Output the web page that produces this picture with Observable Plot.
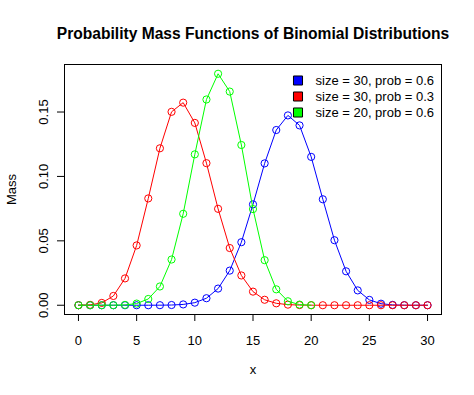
<!DOCTYPE html>
<html>
<head>
<meta charset="utf-8">
<script src="https://cdn.jsdelivr.net/npm/d3@7"></script>
<script src="https://cdn.jsdelivr.net/npm/@observablehq/plot@0.6"></script>
<style>
  html, body { margin: 0; padding: 0; background: #fff; }
  #chart { width: 474px; height: 395px; }
  svg { font-family: "Liberation Sans", Arial, sans-serif; }
</style>
</head>
<body>
<div id="chart"></div>
<script>
// x values (number of successes)
const k30 = d3.range(0, 31);
const k20 = d3.range(0, 21);

// size = 30, prob = 0.6
const massBlue = [
  0.0000000000012, 0.00000000005, 0.0000000011, 0.000000016, 0.00000016, 0.0000012,
  0.0000078, 0.000040, 0.000173, 0.000634, 0.002000, 0.005448, 0.012939, 0.026873,
  0.048947, 0.078315, 0.110130, 0.136040, 0.147380, 0.139620, 0.115190, 0.082278,
  0.050489, 0.026342, 0.011525, 0.004149, 0.001197, 0.000266, 0.0000427, 0.0000044, 0.0000002
];
// size = 30, prob = 0.3
const massRed = [
  0.0000225, 0.000290, 0.001801, 0.007203, 0.020838, 0.046439, 0.082927, 0.121850,
  0.150140, 0.157290, 0.141560, 0.110310, 0.074853, 0.044418, 0.023115, 0.010567,
  0.004246, 0.001499, 0.000464, 0.000126, 0.0000296, 0.0000060, 0.0000011, 0.00000016,
  0.00000002, 0, 0, 0, 0, 0, 0
];
// size = 20, prob = 0.6
const massGreen = [
  0.000000011, 0.00000033, 0.0000047, 0.0000423, 0.000270, 0.001294, 0.004854, 0.014563,
  0.035497, 0.070995, 0.117140, 0.159740, 0.179710, 0.165880, 0.124410, 0.074647,
  0.034991, 0.012350, 0.003087, 0.000487, 0.0000366
];

const seriesLabels = ["size = 30, prob = 0.6", "size = 30, prob = 0.3", "size = 20, prob = 0.6"];
const seriesColors = ["#0000FF", "#FF0000", "#00FF00"];
const xTicks = [0, 5, 10, 15, 20, 25, 30];
const yTicks = [0, 0.05, 0.10, 0.15];
const titleText = "Probability Mass Functions of Binomial Distributions";

const seriesData = [
  k30.map((x, i) => ({x, y: massBlue[i]})),
  k30.map((x, i) => ({x, y: massRed[i]})),
  k20.map((x, i) => ({x, y: massGreen[i]}))
];

const seriesMarks = seriesData.flatMap((data, s) => [
  Plot.line(data, {x: "x", y: "y", stroke: seriesColors[s], strokeWidth: 1}),
  Plot.dot(data, {x: "x", y: "y", r: 3.6, stroke: seriesColors[s], fill: "none", strokeWidth: 1})
]);

const legendMarks = seriesLabels.flatMap((label, s) => [
  Plot.dot([label], {frameAnchor: "top-left", dx: 233.5, dy: 16 + 16 * s, symbol: "square", r: 5.1,
    fill: seriesColors[s], stroke: "#000", strokeWidth: 1}),
  Plot.text([label], {frameAnchor: "top-left", dx: 251, dy: 16.5 + 16 * s, text: d => d,
    textAnchor: "start", lineAnchor: "middle", fontSize: 13, fill: "#000"})
]);

const chart = Plot.plot({
  width: 474,
  height: 395,
  marginLeft: 64,
  marginRight: 33,
  marginTop: 64,
  marginBottom: 81,
  style: {fontFamily: "'Liberation Sans', Arial, sans-serif", fontSize: "13px", color: "#000", background: "#fff"},
  x: {domain: [-1.2, 31.2]},
  y: {domain: [-0.00719, 0.18690]},
  marks: [
    Plot.frame({stroke: "#000", strokeWidth: 1}),
    Plot.axisX({ticks: xTicks, tickSize: 7, tickPadding: 14, tickFormat: d => String(d), label: null, fontSize: 13}),
    Plot.axisY({ticks: yTicks, tickSize: 7, fill: "none", stroke: "#000", label: null}),
    Plot.axisY({ticks: yTicks, tickSize: 0, tickPadding: 17, tickFormat: d3.format(".2f"), label: null,
      rotate: -90, textAnchor: "middle", lineAnchor: "bottom", fontSize: 13}),
    Plot.text(["x"], {frameAnchor: "bottom", dy: 59, text: d => d, lineAnchor: "bottom", fontSize: 13}),
    Plot.text(["Mass"], {frameAnchor: "left", dx: -49, rotate: -90, text: d => d, lineAnchor: "bottom", textAnchor: "middle", fontSize: 13}),
    Plot.text([titleText], {frameAnchor: "top", dy: -26, text: d => d, lineAnchor: "bottom", fontSize: 15.6, fontWeight: "bold"}),
    ...seriesMarks,
    ...legendMarks
  ]
});
document.getElementById("chart").append(chart);
</script>
</body>
</html>
